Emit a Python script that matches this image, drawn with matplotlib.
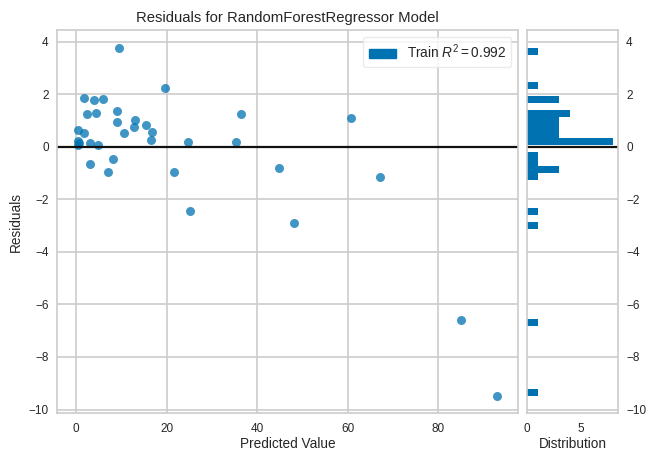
import numpy as np
import matplotlib
matplotlib.use("Agg")
import matplotlib.pyplot as plt
from matplotlib.patches import Patch

# predicted values and residuals
predicted = [9.5, 19.7, 1.8, 4.0, 6.0, 2.4, 4.4, 9.1, 9.0, 13.0, 12.7, 15.4,
             16.8, 16.5, 10.6, 0.5, 1.8, 0.4, 0.4, 0.6, 3.0, 4.8, 24.6, 35.3,
             3.0, 8.2, 7.0, 21.7, 25.1, 36.4, 60.8, 44.7, 67.0, 48.2, 84.9, 93.0]
residuals = [3.77, 2.22, 1.87, 1.77, 1.83, 1.26, 1.30, 1.34, 0.95, 1.03, 0.74, 0.81,
             0.57, 0.27, 0.52, 0.65, 0.52, 0.23, 0.08, 0.15, 0.14, 0.07, 0.17, 0.19,
             -0.65, -0.45, -0.95, -0.98, -2.45, 1.26, 1.08, -0.80, -1.15, -2.91, -6.6, -9.47]
r2 = 0.992

title = "Residuals for RandomForestRegressor Model"
blue = "#0072B2"
grey = "#cccccc"
txt = "#262626"

plt.rcParams["font.family"] = ["Liberation Sans", "DejaVu Sans"]
plt.rcParams["mathtext.fontset"] = "custom"
plt.rcParams["mathtext.rm"] = "Liberation Sans"
plt.rcParams["mathtext.it"] = "Liberation Sans:italic"

fig = plt.figure(figsize=(6.51, 4.51), dpi=100)
ax = fig.add_axes([0.0876, 0.0843, 0.7084, 0.8487])
hax = fig.add_axes([0.8095, 0.0843, 0.1395, 0.8487], sharey=ax)

for a in (ax, hax):
    a.set_facecolor("white")
    for s in a.spines.values():
        s.set_color(grey)
        s.set_linewidth(1.2)
    a.grid(True, color=grey, linewidth=1.2)
    a.set_axisbelow(True)
    a.tick_params(length=0, labelsize=8.5, labelcolor=txt)

ax.tick_params(axis="x", pad=7)
ax.tick_params(axis="y", pad=6)

ax.scatter(predicted, residuals, c=blue, alpha=0.75, s=42, linewidths=0)
ax.axhline(0, color="#111111", linewidth=1.6)

hax.hist(residuals, bins=50, orientation="horizontal", color=blue)
hax.axhline(0, color="#111111", linewidth=1.6)
hax.grid(False, axis="x")
hax.yaxis.tick_right()
hax.tick_params(axis="y", labelright=True, labelleft=False, pad=6)
hax.tick_params(axis="x", pad=7)
hax.set_xticks([0, 5])

ax.set_title(title, fontsize=10.7, color=txt)
ax.set_xlabel("Predicted Value", fontsize=9.8, color=txt, labelpad=1.5)
ax.set_ylabel("Residuals", fontsize=9.8, color=txt)
hax.set_xlabel("Distribution", fontsize=9.8, color=txt, labelpad=1.5)

leg = ax.legend(handles=[Patch(color=blue, label="Train $R^2 = {:0.3f}$".format(r2))],
                loc="upper right", frameon=True, fontsize=9.8)
leg.get_frame().set_edgecolor("#e6e6e6")
for t in leg.get_texts():
    t.set_color(txt)

fig.savefig("out.png", dpi=100, facecolor="white")
